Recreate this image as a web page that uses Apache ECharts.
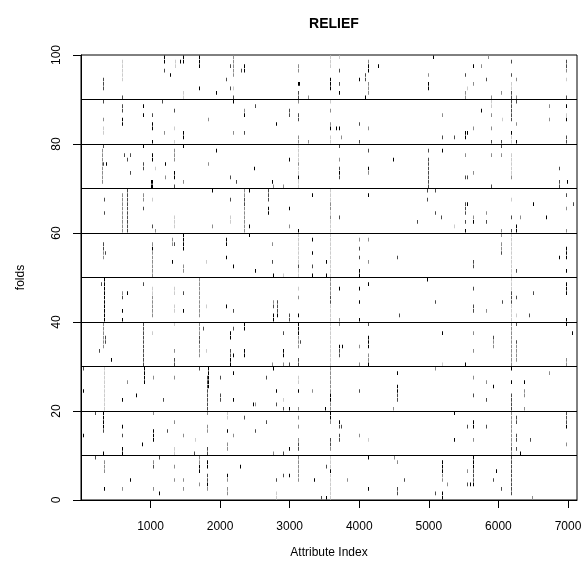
<!DOCTYPE html>
<html><head><meta charset="utf-8">
<script src="https://cdn.jsdelivr.net/npm/echarts@6/dist/echarts.min.js"></script>
<style>html,body{margin:0;padding:0;background:#fff}#c{width:587px;height:569px}</style>
</head><body><div id="c"></div><script>
// Tick labels
const xTicks = [1000, 2000, 3000, 4000, 5000, 6000, 7000];
const yTicks = [0, 20, 40, 60, 80, 100];
const foldBoundaries = [10, 20, 30, 40, 50, 60, 70, 80, 90];
// shade level: 0 black, 1 dark grey, 2 grey, 3 light grey
const shadeColors = ['#000000', '#4a4a4a', '#8c8c8c', '#cccccc'];
// marks: [attribute index, top fold, bottom fold, shade level]
const marks91to100 = [
[321,95,93,1],[589,99,95,3],[589,91,91,1],[1193,100,99,0],[1193,97,97,1],[1280,96,96,0],[1346,99,98,3],[1427,99,99,0],
[1471,100,99,0],[1471,92,91,3],[1696,100,98,0],[1696,93,93,0],[1945,92,92,0],[2084,95,95,1],[2147,98,98,1],[2147,93,93,1],
[2189,100,96,2],[2189,93,93,3],[2189,91,91,1],[2304,97,97,1],[2348,98,97,0],[3119,98,97,2],[3119,94,94,0],[3138,94,94,0],
[3119,92,91,1],[3262,91,91,2],[3584,100,98,3],[3584,95,93,0],[3708,100,100,3],[3708,97,97,1],[3708,94,94,1],[3708,92,92,0],
[3995,95,95,0],[4087,96,95,1],[4087,91,91,0],[4129,99,99,2],[4129,98,97,0],[4129,94,92,2],[4269,98,98,0],[4987,96,96,2],
[4987,94,93,0],[5064,100,100,0],[5514,96,96,1],[5514,92,91,2],[5553,93,93,3],[5639,98,98,0],[5639,94,94,2],[5754,98,98,2],
[5821,95,95,1],[5854,100,100,2],[5898,91,91,2],[6032,92,92,2],[6181,99,99,1],[6181,96,96,1],[6181,94,93,3],[6181,92,91,1],
[6247,95,95,2],[6247,91,91,2],[6975,99,98,1],[6975,97,97,2],[6975,95,95,3],[6975,91,91,1]
];
const marks81to90 = [
[321,90,90,1],[321,86,86,2],[321,84,83,3],[594,89,88,1],[594,86,85,0],[896,89,89,0],[896,87,87,0],[1021,87,87,1],
[1021,85,84,0],[1021,81,81,0],[1169,90,90,1],[1193,83,83,2],[1341,88,88,1],[1341,84,84,3],[1341,81,81,3],[1471,83,82,0],
[1825,86,86,2],[2189,90,90,0],[2189,83,83,2],[2348,88,88,2],[2348,87,87,0],[2348,83,83,1],[2506,89,89,1],[2807,85,85,0],
[2990,88,87,1],[3119,90,90,2],[3119,87,86,1],[3119,82,81,2],[3262,81,81,2],[3584,90,90,3],[3584,88,88,2],[3584,85,85,2],
[3584,84,84,0],[3584,82,81,3],[3670,84,84,0],[3708,84,84,0],[3733,82,82,2],[3995,85,85,1],[3995,81,81,1],[4129,84,84,2],
[5194,87,87,2],[5194,82,82,1],[5366,82,82,1],[5514,83,82,0],[5553,83,83,0],[5639,84,84,2],[5754,88,88,0],[5898,90,89,3],
[5898,87,87,2],[5898,84,84,2],[5898,81,81,1],[6032,81,81,1],[6056,86,86,3],[6181,90,86,1],[6181,83,83,0],[6181,82,81,3],
[6247,90,90,1],[6247,85,85,2],[6247,81,81,0],[6726,89,89,2],[6726,86,86,2],[6975,89,89,0],[6975,87,87,3],[6975,86,86,0],
[6975,82,81,1]
];
const marks71to80 = [
[302,79,72,2],[321,80,80,1],[321,76,76,1],[359,76,76,0],[618,78,78,1],[657,77,77,1],[709,78,78,1],[709,74,74,1],
[896,80,80,0],[896,76,75,1],[1001,72,71,0],[1021,78,77,0],[1021,72,71,0],[1058,75,75,3],[1202,76,76,0],[1202,73,73,2],
[1341,79,77,2],[1341,74,73,0],[1341,71,71,1],[1471,80,80,0],[1471,72,72,2],[1825,76,76,2],[1945,79,79,0],[2147,73,73,1],
[2233,72,72,1],[2487,75,75,0],[2750,72,72,0],[2765,71,71,2],[2908,71,71,2],[2990,77,77,0],[3119,80,77,3],[3119,76,76,2],
[3119,75,74,3],[3119,73,73,0],[3119,72,71,3],[3708,80,80,1],[3708,77,77,2],[3708,75,75,1],[3708,74,74,0],[3708,73,73,1],
[4129,79,79,1],[4129,75,75,0],[4129,74,74,2],[4489,77,77,0],[4987,79,79,1],[4987,77,72,1],[4987,71,71,1],[5194,79,79,0],
[5514,78,78,2],[5514,73,73,1],[5553,73,73,1],[5639,74,74,2],[5898,78,78,2],[5898,71,71,1],[6042,80,80,1],[6042,78,78,2],
[6181,78,74,3],[6181,73,73,2],[6870,75,75,1],[6870,72,71,1],[6985,72,72,0]
];
const marks61to70 = [
[335,68,68,1],[335,65,65,1],[589,69,61,2],[657,70,61,1],[896,69,68,2],[896,66,66,1],[1021,68,68,3],[1021,62,62,1],
[1058,61,61,2],[1341,64,62,3],[1888,70,70,0],[1888,62,62,2],[2147,68,68,1],[2147,64,63,3],[2348,70,69,2],[2348,68,67,1],
[2348,66,61,2],[2409,70,70,0],[2409,62,62,0],[2692,70,68,1],[2692,66,65,0],[2990,66,66,0],[2990,62,62,2],[3124,61,61,0],
[3325,69,69,0],[3584,70,68,3],[3584,67,66,2],[3584,65,65,3],[3584,64,64,2],[3584,63,61,3],[3708,64,64,1],[4129,69,69,0],
[4834,63,63,1],[4977,70,70,1],[4977,68,68,1],[5093,70,70,1],[5093,65,65,1],[5174,64,64,1],[5366,62,62,3],[5514,67,65,1],
[5553,67,67,0],[5514,63,63,1],[5514,61,61,0],[5639,64,64,2],[5639,63,63,0],[5821,65,65,2],[5821,63,63,1],[6042,61,61,2],
[6181,68,68,3],[6181,64,64,1],[6181,61,61,1],[6247,62,61,0],[6315,64,64,2],[6501,67,67,0],[6689,64,64,0],[6975,69,69,1],
[6975,66,66,2],[6975,61,61,2],[7076,67,67,1]
];
const marks51to60 = [
[321,58,57,1],[321,56,55,2],[350,56,56,1],[1021,58,58,2],[1021,57,57,0],[1021,56,51,2],[1312,59,58,2],[1312,54,54,0],
[1341,58,58,1],[1471,60,57,0],[1471,53,52,2],[1801,54,54,3],[2089,59,58,0],[2089,55,55,0],[2189,53,53,0],[2409,60,60,0],
[2506,52,52,0],[2750,58,58,2],[2750,54,54,1],[2765,51,51,0],[2908,51,51,3],[3119,60,54,3],[3119,53,53,1],[3119,52,51,3],
[3325,59,59,0],[3325,56,56,0],[3325,53,53,1],[3325,51,51,0],[3526,54,54,0],[3526,51,51,0],[3584,60,51,3],[3995,59,59,2],
[3995,57,57,1],[3995,55,55,1],[3995,52,51,0],[4129,59,59,2],[4129,54,54,2],[4547,55,55,1],[5639,54,53,1],[6042,60,60,2],
[6042,58,57,2],[6042,56,56,1],[6181,60,51,3],[6247,52,52,1],[6870,55,55,0],[6975,57,55,0],[6975,52,52,0]
];
const marks41to50 = [
[293,49,49,1],[330,50,41,0],[589,47,47,2],[589,46,46,1],[589,43,43,0],[589,41,41,0],[657,47,47,0],[896,49,49,1],
[1021,48,47,3],[1021,46,42,2],[1341,48,47,3],[1341,44,43,3],[1471,47,47,1],[1471,43,43,0],[1696,50,42,2],[1801,44,44,3],
[2089,44,44,0],[2189,43,43,1],[2765,45,45,2],[2765,44,44,1],[2765,42,41,0],[2812,45,43,1],[2812,42,42,0],[2995,42,41,1],
[3119,48,48,3],[3119,46,46,2],[3119,42,42,0],[3584,50,47,2],[3584,46,45,1],[3584,44,41,3],[3708,48,48,0],[3708,41,41,2],
[3995,48,48,0],[3995,45,45,0],[3995,41,41,0],[4129,49,49,0],[4576,42,42,1],[4977,50,50,0],[5093,45,45,1],[5639,48,48,1],
[5639,44,43,1],[5821,43,43,2],[6056,45,45,1],[6181,50,48,3],[6181,47,45,1],[6181,44,41,3],[6247,46,46,1],[6247,42,42,3],
[6440,42,42,1],[6501,47,47,1],[6975,49,47,0],[6975,41,41,0]
];
const marks31to40 = [
[321,40,35,2],[340,37,36,1],[264,34,34,1],[436,32,32,0],[896,40,31,1],[1021,38,38,3],[1341,40,40,3],[1341,34,34,2],
[1341,32,31,1],[1696,40,38,2],[1696,37,36,1],[1696,35,33,2],[1759,39,39,1],[1801,34,34,3],[2147,38,37,0],[2147,34,33,1],
[2147,32,31,0],[2189,39,39,1],[2189,33,33,0],[2348,40,39,0],[2348,34,33,0],[2750,31,31,2],[2908,38,38,1],[2908,34,33,0],
[2908,31,31,2],[2990,31,31,1],[3119,40,38,0],[3119,37,35,2],[3119,32,31,1],[3147,36,36,1],[3584,40,31,3],[3708,40,40,2],
[3708,35,35,0],[3751,35,35,0],[3708,34,33,1],[3995,35,35,2],[3995,31,31,2],[4129,40,40,1],[4129,37,35,0],[4129,33,32,2],
[4129,31,31,0],[5194,38,38,0],[5194,31,31,3],[5514,31,31,0],[5639,38,38,2],[5639,34,34,2],[5927,37,37,1],[5927,36,35,2],
[6181,40,31,2],[6247,40,40,1],[6247,36,36,1],[6247,35,32,2],[6975,40,40,0],[6975,32,31,2],[7058,38,38,0]
];
const marks21to30 = [
[29,30,30,1],[29,25,25,0],[330,30,21,3],[594,23,23,0],[657,27,27,2],[796,24,24,0],[901,30,27,0],[1031,28,28,2],
[1183,23,23,1],[1341,28,28,2],[1701,30,30,1],[1806,28,21,1],[1830,30,26,0],[1998,28,28,1],[1998,24,23,1],[2189,29,29,0],
[2189,23,23,0],[2477,22,22,0],[2506,22,22,2],[2659,28,28,1],[2755,30,30,0],[2807,25,25,0],[2807,22,22,1],[2908,23,23,3],
[2908,21,21,1],[2995,21,21,0],[3124,28,27,3],[3124,25,25,0],[3124,21,21,2],[3325,25,25,2],[3511,21,21,0],[3584,30,25,2],
[3584,24,23,0],[3584,22,21,2],[4000,25,25,1],[4489,21,21,2],[4547,29,29,0],[4547,26,25,0],[4547,24,23,1],[5093,30,30,2],
[5639,28,28,2],[5639,24,24,1],[5826,27,27,2],[5826,23,23,1],[5927,26,26,0],[6176,30,30,0],[6176,27,27,0],[6176,24,21,1],
[6372,27,27,0],[6372,25,24,2],[6372,21,21,2],[6731,29,29,2]
];
const marks11to20 = [
[29,15,15,0],[206,20,20,1],[321,20,17,0],[321,16,16,1],[321,11,11,0],[594,17,17,0],[594,15,15,1],[594,12,11,0],
[882,13,13,0],[1031,20,20,2],[1031,16,14,0],[1241,16,16,1],[1341,18,18,2],[1341,12,11,3],[1466,15,15,2],[1629,11,11,1],
[1644,14,14,3],[1806,20,20,2],[1806,17,16,2],[1806,12,11,1],[2094,20,19,3],[2094,16,16,0],[2094,13,12,2],[2189,15,15,2],
[2348,19,19,1],[2506,16,16,1],[2659,18,18,1],[2765,11,11,2],[2908,11,11,1],[2995,12,12,0],[3124,19,19,2],[3124,17,17,2],
[3124,14,14,2],[3124,13,12,1],[3584,20,19,0],[3584,18,18,2],[3584,14,13,1],[3584,12,12,2],[3713,18,18,0],[3713,17,17,1],
[3713,15,14,1],[3737,17,17,1],[4000,15,15,2],[4129,14,14,3],[5366,20,20,0],[5366,14,14,0],[5553,17,17,1],[5639,18,17,0],
[5639,14,14,2],[5826,17,17,1],[6176,20,13,2],[6176,12,12,1],[6176,11,11,2],[6257,19,18,1],[6257,15,14,1],[6257,12,12,1],
[6310,11,11,0],[6458,14,14,1],[6970,20,18,1],[6970,17,17,0],[6970,13,13,2]
];
const marks1to10 = [
[206,10,10,1],[330,9,7,2],[330,3,3,0],[594,3,3,2],[709,5,5,0],[1031,9,9,2],[1031,8,8,1],[1031,3,3,2],
[1126,10,10,1],[1126,2,2,0],[1341,8,8,2],[1341,5,5,2],[1466,5,5,2],[1466,3,3,2],[1701,10,9,2],[1701,8,7,0],
[1701,4,4,2],[1806,9,8,0],[1806,6,5,1],[1806,4,4,0],[1806,3,3,2],[2094,6,6,0],[2094,5,5,2],[2094,3,2,2],
[2290,8,8,0],[2807,5,5,1],[2807,2,1,3],[2908,6,6,1],[2995,6,6,0],[3124,10,5,2],[3354,5,5,0],[3445,1,1,1],
[3521,8,8,1],[3521,1,1,0],[3584,10,8,3],[3584,7,7,0],[3584,6,1,3],[3819,5,5,2],[4129,10,10,0],[4129,3,3,0],
[4503,10,10,2],[4547,9,9,2],[4547,3,2,1],[4647,5,5,1],[5093,2,2,1],[5194,9,7,0],[5194,6,5,2],[5194,2,1,0],
[5265,4,4,2],[5553,7,7,2],[5553,4,4,1],[5596,4,4,0],[5629,4,4,0],[5639,10,8,0],[5639,7,5,1],[5927,5,5,1],
[5969,7,7,0],[6042,3,3,1],[6176,10,2,1],[6487,1,1,2]
];

const allMarks = [].concat(marks91to100, marks81to90, marks71to80, marks61to70, marks51to60,
  marks41to50, marks31to40, marks21to30, marks11to20, marks1to10);

const FONT = "'Liberation Sans', Arial, Helvetica, sans-serif";
const chart = echarts.init(document.getElementById('c'), null, {renderer: 'canvas'});
chart.setOption({
  animation: false,
  backgroundColor: '#ffffff',
  title: {
    text: 'RELIEF', left: 329, top: 12, textAlign: 'center',
    textStyle: {fontFamily: FONT, fontSize: 14, fontWeight: 'bold', color: '#000'}
  },
  grid: {left: 81, right: 10, top: 55, bottom: 69, show: true, borderColor: '#000', borderWidth: 1, backgroundColor: 'transparent'},
  xAxis: {
    type: 'value', min: 0.5, max: 7129.5,
    name: 'Attribute Index', nameLocation: 'middle', nameGap: 47,
    nameTextStyle: {fontFamily: FONT, fontSize: 12, color: '#000'},
    axisLine: {show: true, lineStyle: {color: '#000', width: 1}},
    axisTick: {show: true, length: 8, lineStyle: {color: '#000'}, customValues: xTicks},
    axisLabel: {fontFamily: FONT, fontSize: 12, color: '#000', margin: 21, customValues: xTicks,
      formatter: v => String(v)},
    splitLine: {show: false}
  },
  yAxis: {
    type: 'value', min: 0, max: 100, interval: 20,
    name: 'folds', nameLocation: 'middle', nameGap: 54, nameRotate: 90,
    nameTextStyle: {fontFamily: FONT, fontSize: 12, color: '#000'},
    axisLine: {show: true, lineStyle: {color: '#000', width: 1}},
    axisTick: {show: true, length: 8, lineStyle: {color: '#000'}},
    axisLabel: {fontFamily: FONT, fontSize: 12, color: '#000', margin: 18, rotate: 90,
      formatter: v => yTicks.indexOf(v) >= 0 ? String(v) : ''},
    splitLine: {show: false}
  },
  series: [
    {
      type: 'custom',
      silent: true,
      encode: {x: 0, y: [1, 2]},
      data: allMarks,
      renderItem: function (params, api) {
        const a = api.value(0), top = api.value(1), bot = api.value(2), lv = api.value(3);
        const x = Math.round(api.coord([a, 0])[0]);
        const children = [];
        for (let k = bot; k <= top; k++) {
          const yt = api.coord([a, k])[1];
          const yb = api.coord([a, k - 1])[1];
          children.push({
            type: 'rect',
            shape: {x: x, y: yt + 0.4, width: 1, height: (yb - yt) - 0.8},
            style: {fill: shadeColors[lv]}
          });
        }
        return {type: 'group', children: children};
      }
    },
    {
      type: 'line', data: [], silent: true,
      markLine: {
        silent: true, symbol: 'none', label: {show: false},
        lineStyle: {color: '#000', width: 1, type: 'solid'},
        data: foldBoundaries.map(v => ({yAxis: v}))
      }
    }
  ]
});
</script></body></html>
